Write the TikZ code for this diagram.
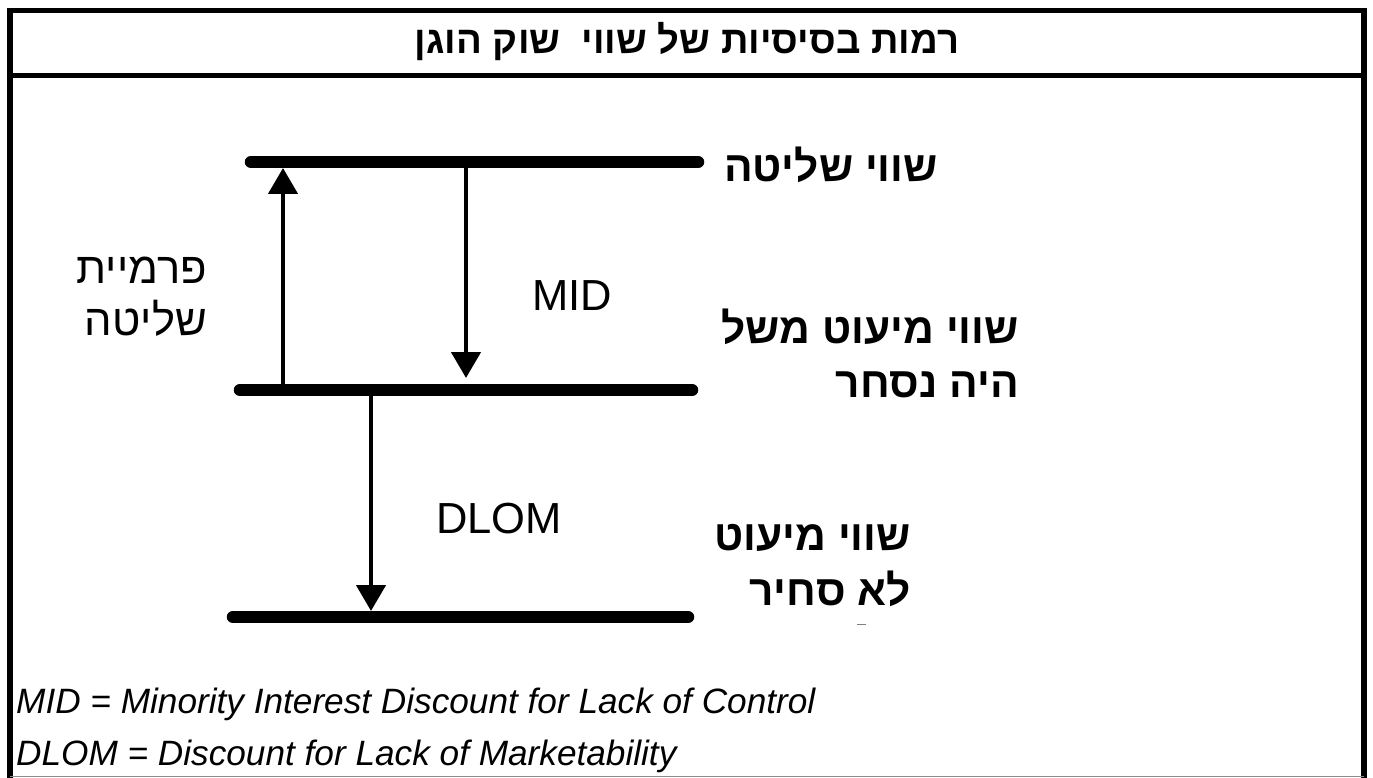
\documentclass[tikz,border=0pt]{standalone}
\usepackage{fontspec}
\setmainfont{Liberation Sans}
\newfontfamily\hebfont[Script=Hebrew]{Liberation Sans}
\TeXXeTstate=1
\usetikzlibrary{arrows.meta}
\begin{document}
\begin{tikzpicture}[x=1pt,y=-1pt,
  framestyle/.style={line width=5.5pt},
  bar/.style={line width=12.5pt,line cap=round},
  arr/.style={line width=4.5pt,-{Triangle[width=29pt,length=26pt]}},
  hebb/.style={inner sep=0pt,anchor=base east,font=\hebfont\bfseries\fontsize{42.5}{47}\selectfont},
  hebr/.style={inner sep=0pt,anchor=base east,font=\hebfont\fontsize{43.5}{47}\selectfont},
  lat/.style={inner sep=0pt,anchor=base west,font=\fontsize{43.5}{50}\selectfont},
  leg/.style={inner sep=0pt,anchor=base west,font=\itshape\fontsize{35.2}{40}\selectfont}]
\useasboundingbox (0,0) rectangle (1373,778);
\clip (0,0) rectangle (1373,778);
% frame
\coordinate (fBL) at (10,790);
\coordinate (fTL) at (10,10.5);
\coordinate (fTR) at (1364,10.5);
\coordinate (fBR) at (1364,790);
\coordinate (hL) at (10,75.5);
\coordinate (hR) at (1364,75.5);
\draw[framestyle] (fBL) -- (fTL) -- (fTR) -- (fBR);
\draw[framestyle] (hL) -- (hR);
\coordinate (gL) at (10,776.8);
\coordinate (gR) at (1364,776.8);
\draw[black!45,line width=1pt] (gL) -- (gR);
% title
\node[inner sep=0pt,anchor=base,font=\hebfont\bfseries\fontsize{38.3}{40}\selectfont] (title) at (687,54) {\beginR רמות בסיסיות של שווי\ \ שוק הוגן\endR};
% bars
\coordinate (tL) at (251,162);
\coordinate (tR) at (698,162);
\coordinate (mL) at (240,390);
\coordinate (mR) at (692,390);
\coordinate (bL) at (233,617);
\coordinate (bR) at (688,617);
\draw[bar] (tL) -- (tR);
\draw[bar] (mL) -- (mR);
\draw[bar] (bL) -- (bR);
% arrows
\coordinate (upS) at (283,390);
\coordinate (upE) at (283,168);
\coordinate (midS) at (466,168);
\coordinate (midE) at (466,378);
\coordinate (dlS) at (371,390);
\coordinate (dlE) at (371,611);
\draw[arr] (upS) -- (upE);
\draw[arr] (midS) -- (midE);
\draw[arr] (dlS) -- (dlE);
% labels
\node[lat] (mid) at (532,310) {MID};
\node[lat] (dlom) at (436,533) {DLOM};
\node[hebb] (ctrl) at (938,182) {\beginR שווי שליטה\endR};
\node[hebb] (mt1) at (1019,343) {\beginR שווי מיעוט משל\endR};
\node[hebb] (mt2) at (1019,397) {\beginR היה נסחר\endR};
\node[hebb] (mn1) at (911,550) {\beginR שווי מיעוט\endR};
\node[hebb] (mn2) at (911,605) {\beginR לא סחיר\endR};
\node[hebr] (pr1) at (207,283) {\beginR פרמיית\endR};
\node[hebr] (pr2) at (207,335) {\beginR שליטה\endR};
\coordinate (dashL) at (857,624.5);
\coordinate (dashR) at (866,624.5);
\draw[black!50,line width=1.5pt] (dashL) -- (dashR);
% legend
\node[leg] (leg1) at (16,713) {MID = Minority Interest Discount for Lack of Control};
\node[leg] (leg2) at (16,765) {DLOM = Discount for Lack of Marketability};
\end{tikzpicture}
\end{document}
